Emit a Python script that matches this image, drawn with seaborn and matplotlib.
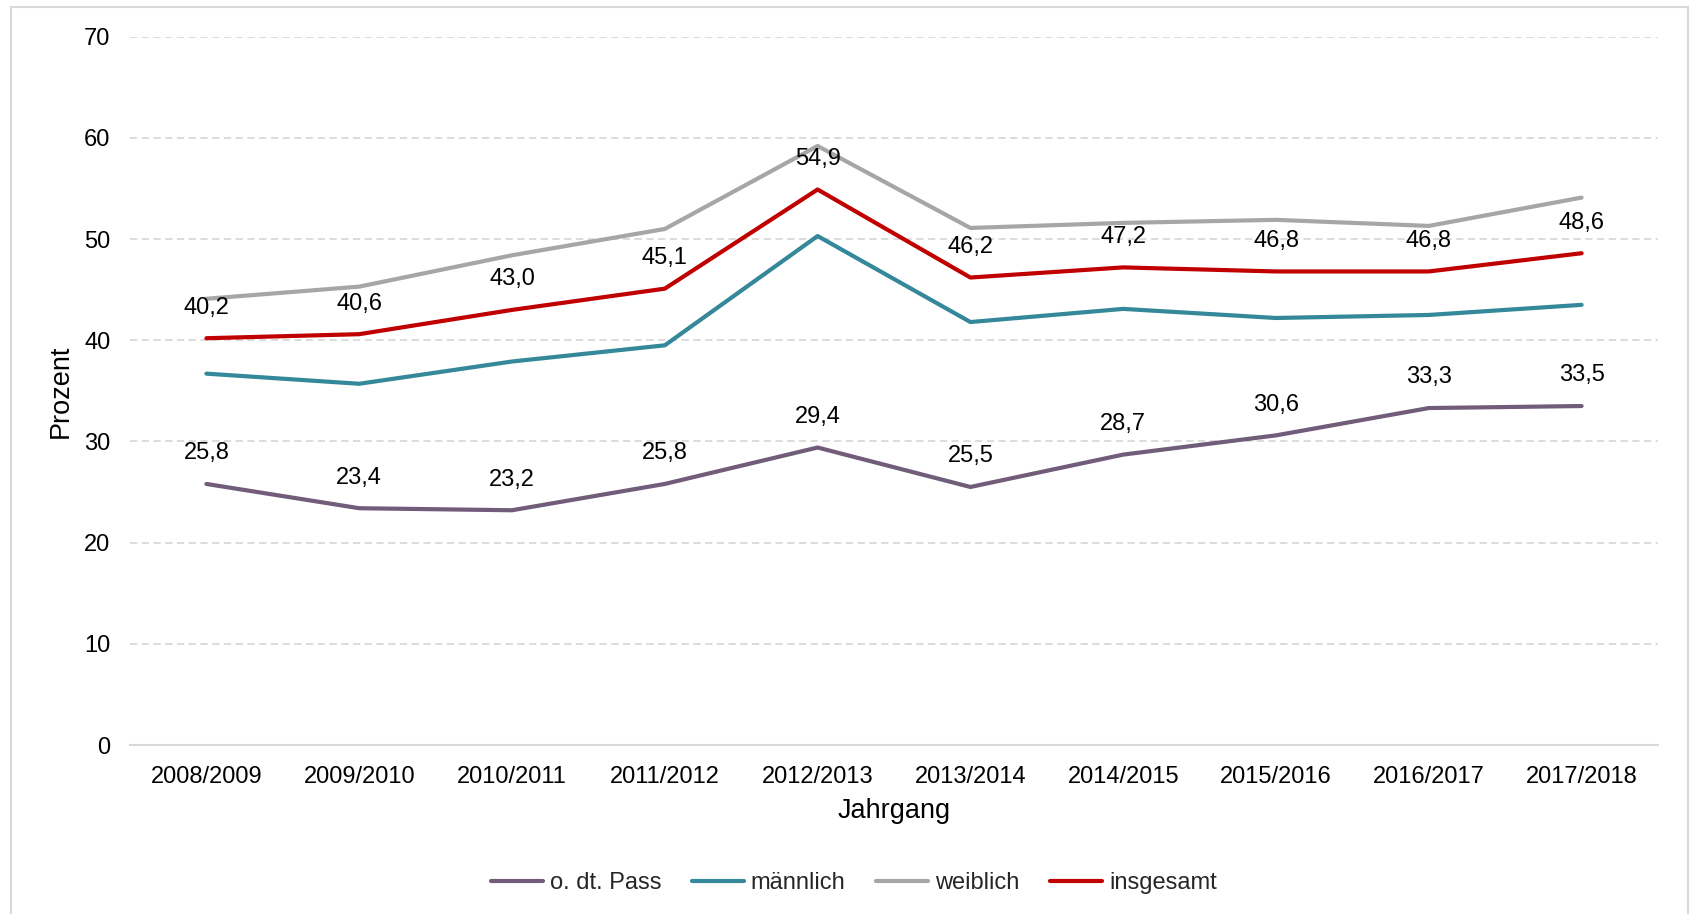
import matplotlib
matplotlib.use("Agg")
import matplotlib.pyplot as plt
from matplotlib.patches import Rectangle
import seaborn as sns
import pandas as pd

# Jahrgänge (x-Achse)
jahrgaenge = ["2008/2009", "2009/2010", "2010/2011", "2011/2012", "2012/2013",
              "2013/2014", "2014/2015", "2015/2016", "2016/2017", "2017/2018"]

# Anteile in Prozent je Gruppe
ohne_dt_pass = [25.8, 23.4, 23.2, 25.8, 29.4, 25.5, 28.7, 30.6, 33.3, 33.5]
maennlich = [36.7, 35.7, 37.9, 39.5, 50.3, 41.8, 43.1, 42.2, 42.5, 43.5]
weiblich = [44.1, 45.3, 48.4, 51.0, 59.2, 51.1, 51.6, 51.9, 51.3, 54.1]
insgesamt = [40.2, 40.6, 43.0, 45.1, 54.9, 46.2, 47.2, 46.8, 46.8, 48.6]

reihen = ["o. dt. Pass", "männlich", "weiblich", "insgesamt"]
farben = ["#715C79", "#35879A", "#A6A6A6", "#C00000"]
beschriftet = ["o. dt. Pass", "insgesamt"]

y_ticks = [0, 10, 20, 30, 40, 50, 60, 70]

werte = {"o. dt. Pass": ohne_dt_pass, "männlich": maennlich,
         "weiblich": weiblich, "insgesamt": insgesamt}
df = pd.DataFrame(
    [(j, r, v) for r in reihen for j, v in zip(jahrgaenge, werte[r])],
    columns=["Jahrgang", "Reihe", "Prozent"],
)

sns.set_theme(style="white")
plt.rcParams["font.family"] = ["Liberation Sans", "DejaVu Sans"]
FS = 17
FS_TITEL = 19.5

fig = plt.figure(figsize=(16.96, 9.14), dpi=100)
ax = fig.add_axes([130 / 1696, 1 - 745 / 914, (1658 - 130) / 1696, (745 - 36.7) / 914])

sns.lineplot(data=df, x="Jahrgang", y="Prozent", hue="Reihe", hue_order=reihen,
             palette=farben, linewidth=3, sort=False, ax=ax, legend=True)
for line in ax.get_lines():
    line.set_solid_capstyle("round")

# Datenbeschriftungen über den Punkten
for r in beschriftet:
    for j, v in zip(jahrgaenge, werte[r]):
        ax.annotate(f"{v:.1f}".replace(".", ","), (j, v), xytext=(0, 22),
                    textcoords="offset points", ha="center", va="center",
                    fontsize=FS, color="black")

ax.set_ylim(0, 70)
ax.set_xlim(-0.5, len(jahrgaenge) - 0.5)
ax.set_yticks(y_ticks)
ax.yaxis.grid(True, color="#D9D9D9", linewidth=1.3, linestyle=(0, (4, 2.5)))
ax.xaxis.grid(False)
ax.set_axisbelow(True)
for side in ["top", "right", "left"]:
    ax.spines[side].set_visible(False)
ax.spines["bottom"].set_color("#D9D9D9")
ax.spines["bottom"].set_linewidth(1.5)
ax.tick_params(axis="both", length=0, labelsize=FS, colors="black")
ax.tick_params(axis="y", pad=14)
ax.tick_params(axis="x", pad=15)

ax.set_xlabel("Jahrgang", fontsize=FS_TITEL, color="black", labelpad=7)
ax.set_ylabel("Prozent", fontsize=FS_TITEL, color="black")
ax.yaxis.set_label_coords(-0.037, 0.5)

handles, labels = ax.get_legend_handles_labels()
ax.get_legend().remove()
fig.legend(handles, labels, loc="center", bbox_to_anchor=(0.5035, 1 - 883 / 914),
           ncol=4, frameon=False, fontsize=FS, handlelength=2.2,
           handletextpad=0.3, columnspacing=1.3)

# Rahmen um die Grafik
fig.patches.append(Rectangle((11 / 1696, -0.02), (1688 - 11) / 1696, 1 - 7 / 914 + 0.02,
                             transform=fig.transFigure, fill=False,
                             edgecolor="#D9D9D9", linewidth=1.5))

fig.savefig("out.png", dpi=100)
